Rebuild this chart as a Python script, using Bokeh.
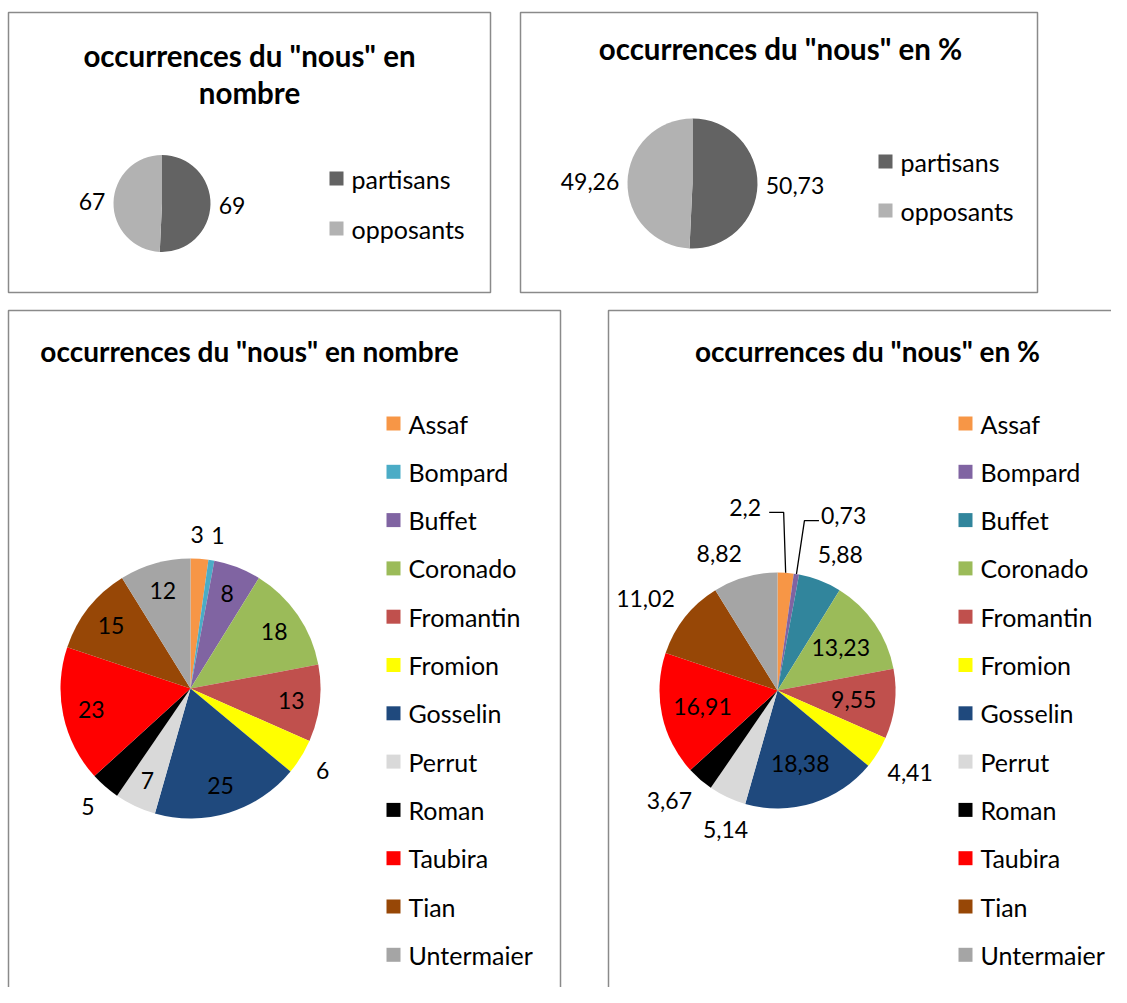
import numpy as np
from bokeh.plotting import figure
from bokeh.models import Range1d, ColumnDataSource
from bokeh.core.properties import value
from bokeh.embed import file_html
from bokeh.resources import INLINE

# ---------------- data ----------------
groups = ["partisans", "opposants"]
group_counts = [69, 67]
group_pcts = [50.73, 49.26]

speakers = ["Assaf", "Bompard", "Buffet", "Coronado", "Fromantin", "Fromion",
            "Gosselin", "Perrut", "Roman", "Taubira", "Tian", "Untermaier"]
speaker_counts = [3, 1, 8, 18, 13, 6, 25, 7, 5, 23, 15, 12]
speaker_pcts = [2.2, 0.73, 5.88, 13.23, 9.55, 4.41, 18.38, 5.14, 3.67, 16.91, 11.02, 8.82]

titles = ['occurrences du "nous" en nombre', 'occurrences du "nous" en %']

# ---------------- styles ----------------
group_colors = ["#636363", "#b2b2b2"]
colors_count = ["#F79646", "#4BACC6", "#8064A2", "#9BBB59", "#C0504D", "#FFFF00",
                "#1F497D", "#D9D9D9", "#000000", "#FF0000", "#974706", "#A5A5A5"]
colors_pct = ["#F79646", "#8064A2", "#31859C", "#9BBB59", "#C0504D", "#FFFF00",
              "#1F497D", "#D9D9D9", "#000000", "#FF0000", "#974706", "#A5A5A5"]
place_count = ["out", "out", "in", "in", "in", "out", "in", "in", "out", "in", "in", "in"]
place_pct = ["lead", "lead", "out", "in", "in", "out", "in", "out", "out", "in", "out", "out"]
# label-angle adjustments (clockwise from top, degrees) to avoid label collisions
nudge_count = {0: 2.5, 1: 10.2}
nudge_pct = {2: 24.8, 7: 200.5, 8: 224.5, 10: 305.0, 11: 337.0}
lead_angle_pct = {0: -10.0, 1: 20.7}
lead_dist_pct = {0: 186, 1: 187}

FONT = "Lato"
LBL = 23
LEG = 25
W, H = 1111, 987

p = figure(width=W, height=H, x_range=Range1d(0, W), y_range=Range1d(1003 - H, 1003),
           x_axis_type=None, y_axis_type=None, toolbar_location=None,
           output_backend="svg", min_border=0, outline_line_color=None)
p.grid.visible = False


def Y(py):
    return 1003 - py


def fmt(v):
    return str(v).replace(".", ",")


def text_w(s, size):
    w = 0
    for ch in s:
        w += 0.23 if ch == "," else 0.58
    return w * size


def txt(x, y, s, size=LBL, bold=False, align="center", color="black"):
    p.text(x=[x], y=[Y(y)], text=[s], text_font=value(FONT),
           text_font_size=f"{size}px", text_font_style="bold" if bold else "normal",
           text_align=align, text_baseline="middle", text_color=color)


def border(l, t, r, b):
    p.quad(left=[l], right=[r], top=[Y(t)], bottom=[Y(b)], fill_color=None,
           line_color="#8a8a8a", line_width=1.5)


def pie(cx, cy, r, vals, colors, labels, places, inside=0.75, gap=9,
        nudge=None, lead_ang=None, lead_dist=None):
    nudge = nudge or {}
    vals = list(vals)
    total = float(sum(vals))
    cum = np.cumsum([0.0] + vals)
    starts = np.pi / 2 - 2 * np.pi * cum[1:] / total
    ends = np.pi / 2 - 2 * np.pi * cum[:-1] / total
    src = ColumnDataSource(dict(x=[cx] * len(vals), y=[Y(cy)] * len(vals),
                                s=starts, e=ends, c=colors))
    p.wedge(x="x", y="y", radius=r, start_angle="s", end_angle="e",
            fill_color="c", line_color=None, source=src)
    mids = (starts + ends) / 2
    for i, (m, lab, pl) in enumerate(zip(mids, labels, places)):
        dx, dy = np.cos(m), np.sin(m)
        if pl == "in":
            d = inside * r
            txt(cx + d * dx, cy - d * dy, lab)
        elif pl == "out":
            if i in nudge:
                a = np.radians(nudge[i])
                ddx, ddy = np.sin(a), np.cos(a)
            else:
                ddx, ddy = dx, dy
            w = text_w(lab, LBL)
            d = r + gap + abs(ddx) * w / 2 + abs(ddy) * 9
            txt(cx + d * ddx, cy - d * ddy, lab)
        else:
            a = np.radians(lead_ang[i])
            d = lead_dist[i]
            lx, ly = cx + d * np.sin(a), cy - d * np.cos(a)
            txt(lx, ly, lab)
            ex, ey = cx + r * dx, cy - r * dy
            w = text_w(lab, LBL)
            if lx < ex:
                elx = ex - 2
                endx = lx + w / 2 + 8
            else:
                elx = ex + 8
                endx = lx - w / 2 - 2
            ely = ly + 5
            p.line(x=[ex, elx, endx], y=[Y(ey), Y(ely), Y(ely)],
                   line_color="black", line_width=1.3)


def legend(x_sq, y0, step, names, colors, size=LEG):
    for k, (n, c) in enumerate(zip(names, colors)):
        y = y0 + k * step
        p.rect(x=[x_sq], y=[Y(y)], width=14, height=14, fill_color=c, line_color=None)
        txt(x_sq + 15, y, n, size=size, align="left")


# ---------------- panel 1 ----------------
border(8, 12, 490, 292)
txt(249, 55, 'occurrences du "nous" en', size=29.5, bold=True)
txt(249, 92, 'nombre', size=29.5, bold=True)
pie(161.5, 203, 48.5, group_counts, group_colors, [fmt(v) for v in group_counts],
    ["out", "out"], gap=8)
legend(336, 178, 50, groups, group_colors)

# ---------------- panel 2 ----------------
border(520, 12, 1037, 292)
txt(780, 48, 'occurrences du "nous" en %', size=29.5, bold=True)
pie(692, 183, 65, group_pcts, group_colors, [fmt(v) for v in group_pcts],
    ["out", "out"], gap=8)
legend(885, 161, 49, groups, group_colors)

# ---------------- panel 3 ----------------
border(8, 310, 560, 1020)
txt(249, 350, titles[0], size=28, bold=True)
pie(190, 688, 130, speaker_counts, colors_count, [fmt(v) for v in speaker_counts],
    place_count, inside=0.78, gap=15, nudge=nudge_count)
legend(393, 423, 48.3, speakers, colors_count)

# ---------------- panel 4 ----------------
border(608, 310, 1140, 1020)
txt(867, 350, titles[1], size=28, bold=True)
pie(777, 690, 118, speaker_pcts, colors_pct, [fmt(v) for v in speaker_pcts],
    place_pct, inside=0.65, gap=14, nudge=nudge_pct,
    lead_ang=lead_angle_pct, lead_dist=lead_dist_pct)
legend(965, 423, 48.3, speakers, colors_pct)

open("out.html", "w").write(file_html(p, INLINE))
